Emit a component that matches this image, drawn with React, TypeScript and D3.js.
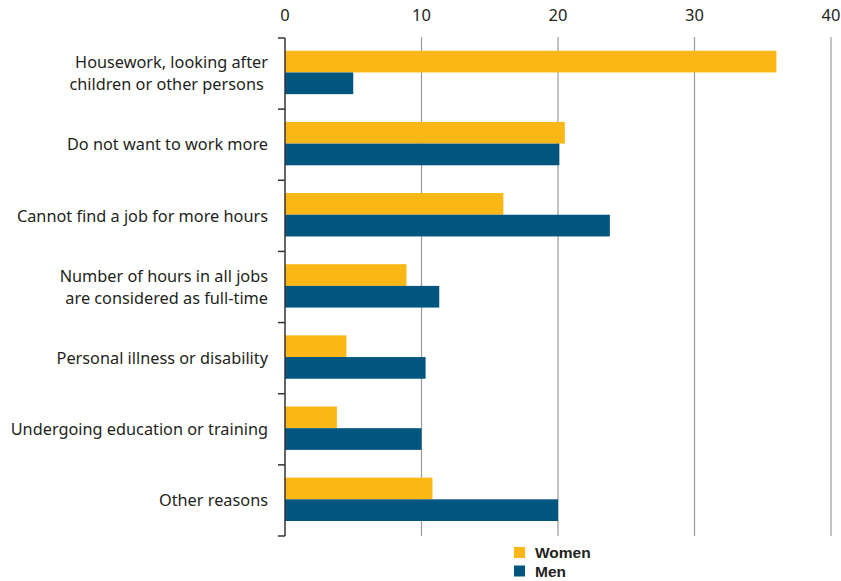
import React from "react";
import * as d3 from "d3";

const categories: string[][] = [
  ["Housework, looking after", "children or other persons "],
  ["Do not want to work more"],
  ["Cannot find a job for more hours"],
  ["Number of hours in all jobs", "are considered as full-time"],
  ["Personal illness or disability"],
  ["Undergoing education or training"],
  ["Other reasons"],
];
const women = [36.0, 20.5, 16.0, 8.9, 4.5, 3.8, 10.8];
const men = [5.0, 20.1, 23.8, 11.3, 10.3, 10.0, 20.0];
const xTicks = [0, 10, 20, 30, 40];
const seriesNames = ["Women", "Men"];
const colors = ["#FBB716", "#00567F"];

export default function App() {
  const W = 841, H = 581;
  const x = d3.scaleLinear().domain([0, 40]).range([285, 831]);
  const idx = categories.map((_, i) => i);
  const y = d3.scaleBand<number>().domain(idx).range([38, 536]).paddingInner(0).paddingOuter(0);
  const inner = d3.scaleBand<number>().domain([0, 1]).range([0, y.bandwidth()]).paddingOuter(0.64).paddingInner(0).align(0.46);
  const font = "'Noto Sans', 'Open Sans', sans-serif";
  const bounds = d3.range(categories.length + 1).map((i) => 38 + i * y.bandwidth());
  return (
    <svg width={W} height={H} style={{ position: "absolute", left: 0, top: 0, background: "#fff" }} fontFamily={font}>
      {xTicks.map((t) => (
        <g key={t}>
          {t > 0 && <line x1={x(t)} x2={x(t)} y1={37} y2={536} stroke="#9a9a9a" strokeWidth={1.2} />}
          <text x={x(t)} y={21} textAnchor="middle" fontSize={16.5} fill="#231f20">{t}</text>
        </g>
      ))}
      {idx.map((i) => (
        <g key={i}>
          <rect x={x(0)} y={y(i)! + inner(0)!} width={x(women[i]) - x(0)} height={inner.bandwidth()} fill={colors[0]} />
          <rect x={x(0)} y={y(i)! + inner(1)!} width={x(men[i]) - x(0)} height={inner.bandwidth()} fill={colors[1]} />
        </g>
      ))}
      <line x1={285} x2={285} y1={38} y2={536} stroke="#333" strokeWidth={1.5} />
      {bounds.map((b, i) => (
        <line key={i} x1={278} x2={285} y1={b} y2={b} stroke="#333" strokeWidth={1.5} />
      ))}
      {categories.map((lines, i) => {
        const cy = y(i)! + y.bandwidth() / 2;
        const lh = 22;
        const start = cy - ((lines.length - 1) * lh) / 2;
        return (
          <text key={i} textAnchor="end" fontSize={16.3} fill="#231f20">
            {lines.map((l, j) => (
              <tspan key={j} x={268} y={start + j * lh} dy="0.35em" style={{ whiteSpace: "pre" }}>{l}</tspan>
            ))}
          </text>
        );
      })}
      {seriesNames.map((s, i) => (
        <g key={s}>
          <rect x={514} y={547 + i * 18.5} width={11} height={11} fill={colors[i]} />
          <text x={535} y={553 + i * 18.5} dy="0.35em" fontSize={15.5} fontWeight="bold" fill="#231f20" fontFamily="'Liberation Sans', Arial, sans-serif">{s}</text>
        </g>
      ))}
    </svg>
  );
}
